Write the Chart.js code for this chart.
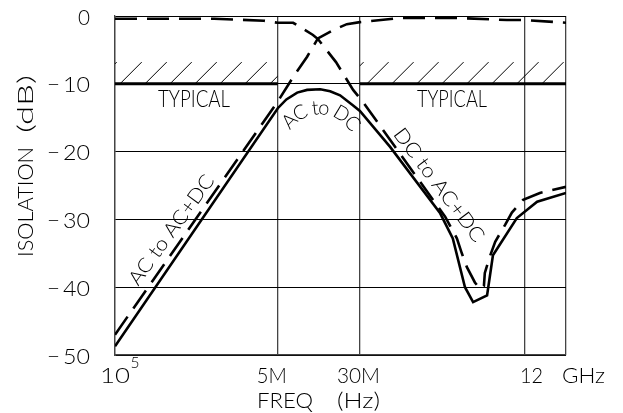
<!DOCTYPE html>
<html>
<head>
<meta charset="utf-8">
<script src="https://cdn.jsdelivr.net/npm/chart.js@4.4.1/dist/chart.umd.min.js"></script>
<style>
  html, body { margin: 0; padding: 0; background: #fff; }
  #wrap { width: 623px; height: 413px; }
</style>
</head>
<body>
<div id="wrap"><canvas id="chart" width="623" height="413"></canvas></div>
<script>
// Frequency axis is schematic (not a true log scale): positions 0..100 along the axis
const X_TICKS = [0, 36.1, 54.3, 90.9, 100];
const X_TICK_LABELS = ['10^5', '5M', '30M', '12 GHz', ''];
const Y_TICKS = [0, -10, -20, -30, -40, -50];

// "TYPICAL" -10 dB bands and hatch top
const TYPICAL_SPANS = [[0, 36.1], [54.3, 100]];
const TYPICAL_LEVEL = -10;
const HATCH_TOP = -6.8;

// solid curve (AC to AC+DC rising, AC to DC peak, DC to AC+DC falling)
const solidX = [0, 36.1, 38.0, 40.4, 42.6, 45.5, 47.7, 49.9, 52.8, 54.3, 61.0, 72.1, 74.9, 77.6, 79.4, 82.5, 83.8, 89.1, 93.6, 100];
const solidY = [-48.7, -13.6, -12.3, -11.3, -10.9, -10.8, -11.1, -11.7, -13.2, -14.0, -19.3, -29.1, -32.8, -40.0, -42.2, -41.2, -35.3, -29.8, -27.4, -26.1];

// dashed curve rising from bottom left, crossing near 5M..30M, then along the top
const dashAX = [0, 36.1, 39.9, 42.6, 45.0, 48.3, 51.4, 54.3, 63.2, 76.5, 86.9, 90.9, 100];
const dashAY = [-47.0, -12.6, -8.6, -6.0, -3.3, -2.1, -1.2, -0.9, -0.3, -0.3, -0.6, -0.6, -1.0];

// dashed curve along the top on the left, then falling with the dip
const dashBX = [0, 22, 33, 36.1, 39.5, 43.9, 45.0, 49.0, 52.8, 55.0, 62.1, 73.2, 75.8, 76.9, 78.0, 79.8, 81.0, 81.8, 82.0, 83.1, 84.3, 86.5, 88.0, 90.5, 94.2, 100];
const dashBY = [-0.4, -0.4, -0.7, -1.0, -1.0, -2.8, -3.4, -6.8, -10.9, -12.7, -19.3, -29.6, -32.8, -35.0, -37.0, -39.3, -40.3, -39.8, -37.9, -35.5, -33.3, -30.8, -29.0, -27.1, -26.1, -25.2];

const pts = (xs, ys) => xs.map((x, i) => ({ x: x, y: ys[i] }));
const FONT = 'Lato, "Liberation Sans", sans-serif';

// draw text centred at x,y and squeezed to a given width
function fitText(ctx, str, x, y, size, width, rot) {
  ctx.save();
  ctx.font = '300 ' + size + 'px ' + FONT;
  const w = ctx.measureText(str).width;
  ctx.translate(x, y);
  ctx.rotate(rot || 0);
  ctx.scale(width ? width / w : 1, 1);
  ctx.textAlign = 'center';
  ctx.textBaseline = 'middle';
  ctx.fillStyle = '#000';
  ctx.fillText(str, 0, 0);
  ctx.restore();
}

// text along a circular arc (centre cx,cy, radius r, centred at angle mid)
function arcText(ctx, str, cx, cy, r, mid, size) {
  ctx.save();
  ctx.font = '300 ' + size + 'px ' + FONT;
  ctx.fillStyle = '#000';
  ctx.textAlign = 'center';
  ctx.textBaseline = 'middle';
  const total = ctx.measureText(str).width;
  let a = mid - total / r / 2;
  for (const ch of str) {
    const w = ctx.measureText(ch).width;
    const t = a + w / r / 2;
    ctx.save();
    ctx.translate(cx + r * Math.cos(t), cy + r * Math.sin(t));
    ctx.rotate(t + Math.PI / 2);
    ctx.fillText(ch, 0, 0);
    ctx.restore();
    a += w / r;
  }
  ctx.restore();
}

const schematic = {
  id: 'schematic',
  beforeDatasetsDraw(chart) {
    const { ctx, scales: { x, y } } = chart;
    const yb = y.getPixelForValue(TYPICAL_LEVEL);
    const yt = y.getPixelForValue(HATCH_TOP);
    const h = yb - yt;
    const offs = [5, 7];
    TYPICAL_SPANS.forEach((s, i) => {
      const x0 = x.getPixelForValue(s[0]);
      const x1 = x.getPixelForValue(s[1]);
      ctx.save();
      ctx.beginPath();
      ctx.rect(x0, yt - 1, x1 - x0, h + 1);
      ctx.clip();
      ctx.strokeStyle = '#000';
      ctx.lineWidth = 1;
      ctx.beginPath();
      for (let xb = x0 + offs[i] - 25; xb < x1 + 25; xb += 25) {
        ctx.moveTo(xb, yb);
        ctx.lineTo(xb + h, yt);
      }
      ctx.stroke();
      ctx.restore();
    });
  },
  afterDraw(chart) {
    const { ctx, scales: { x, y } } = chart;
    // y tick labels
    Y_TICKS.forEach(v => {
      const py = y.getPixelForValue(v) + 1.5;
      if (v === 0) {
        fitText(ctx, '0', 84, py, 22, 12);
      } else {
        fitText(ctx, '\u2212', 53.5, py, 22, 13);
        fitText(ctx, String(-v), 76.5, py, 22, 27);
      }
    });
    // x tick labels
    const ly = 376;
    fitText(ctx, '10', x.getPixelForValue(X_TICKS[0]), ly, 22, 30);
    fitText(ctx, '5', x.getPixelForValue(X_TICKS[0]) + 20, 363, 16, 9);
    fitText(ctx, X_TICK_LABELS[1], x.getPixelForValue(X_TICKS[1]) - 6, ly, 22, 30);
    fitText(ctx, X_TICK_LABELS[2], x.getPixelForValue(X_TICKS[2]) - 1.5, ly, 22, 43);
    const gx = x.getPixelForValue(X_TICKS[3]);
    fitText(ctx, '12', gx + 6.5, ly, 22, 23);
    fitText(ctx, 'GHz', gx + 58.5, ly, 22, 43);
    // axis titles
    fitText(ctx, 'FREQ', 285, 401, 22, 56);
    fitText(ctx, '(Hz)', 358.5, 401, 22, 43);
    fitText(ctx, 'ISOLATION', 25.5, 202, 22, 110, -Math.PI / 2);
    fitText(ctx, '(dB)', 25.5, 104, 22, 58, -Math.PI / 2);
    // band labels
    fitText(ctx, 'TYPICAL', 194, 99, 24, 72);
    fitText(ctx, 'TYPICAL', 452, 99, 24, 70);
    // curve labels
    fitText(ctx, 'AC to AC+DC', 171.5, 230, 20, 131, -54 * Math.PI / 180);
    fitText(ctx, 'DC to AC+DC', 439, 185, 20, 137, 53 * Math.PI / 180);
    arcText(ctx, 'AC to DC', 320, 150, 42, -88 * Math.PI / 180, 20);
  }
};

const lineStyle = {
  borderColor: '#000',
  borderWidth: 2.6,
  pointRadius: 0,
  fill: false,
  tension: 0
};

new Chart(document.getElementById('chart'), {
  type: 'line',
  data: {
    datasets: [
      ...TYPICAL_SPANS.map(s => ({
        ...lineStyle,
        borderWidth: 3,
        data: [{ x: s[0], y: TYPICAL_LEVEL }, { x: s[1], y: TYPICAL_LEVEL }]
      })),
      { ...lineStyle, data: pts(solidX, solidY) },
      { ...lineStyle, borderDash: [22, 10], data: pts(dashAX, dashAY) },
      { ...lineStyle, borderDash: [22, 10], data: pts(dashBX, dashBY) }
    ]
  },
  options: {
    responsive: false,
    animation: false,
    layout: { padding: { left: 115, right: 57, top: 16, bottom: 58 } },
    plugins: { legend: { display: false }, tooltip: { enabled: false } },
    scales: {
      x: {
        type: 'linear',
        min: 0,
        max: 100,
        afterBuildTicks: s => { s.ticks = X_TICKS.map(v => ({ value: v })); },
        ticks: { display: false },
        grid: { color: '#444', lineWidth: 1.3, drawTicks: false },
        border: { color: '#444', width: 1.3 }
      },
      y: {
        type: 'linear',
        min: -50,
        max: 0,
        afterBuildTicks: s => { s.ticks = Y_TICKS.map(v => ({ value: v })); },
        ticks: { display: false },
        grid: { color: '#000', lineWidth: 1, drawTicks: false },
        border: { color: '#444', width: 1.3 }
      }
    }
  },
  plugins: [schematic]
});
</script>
</body>
</html>
